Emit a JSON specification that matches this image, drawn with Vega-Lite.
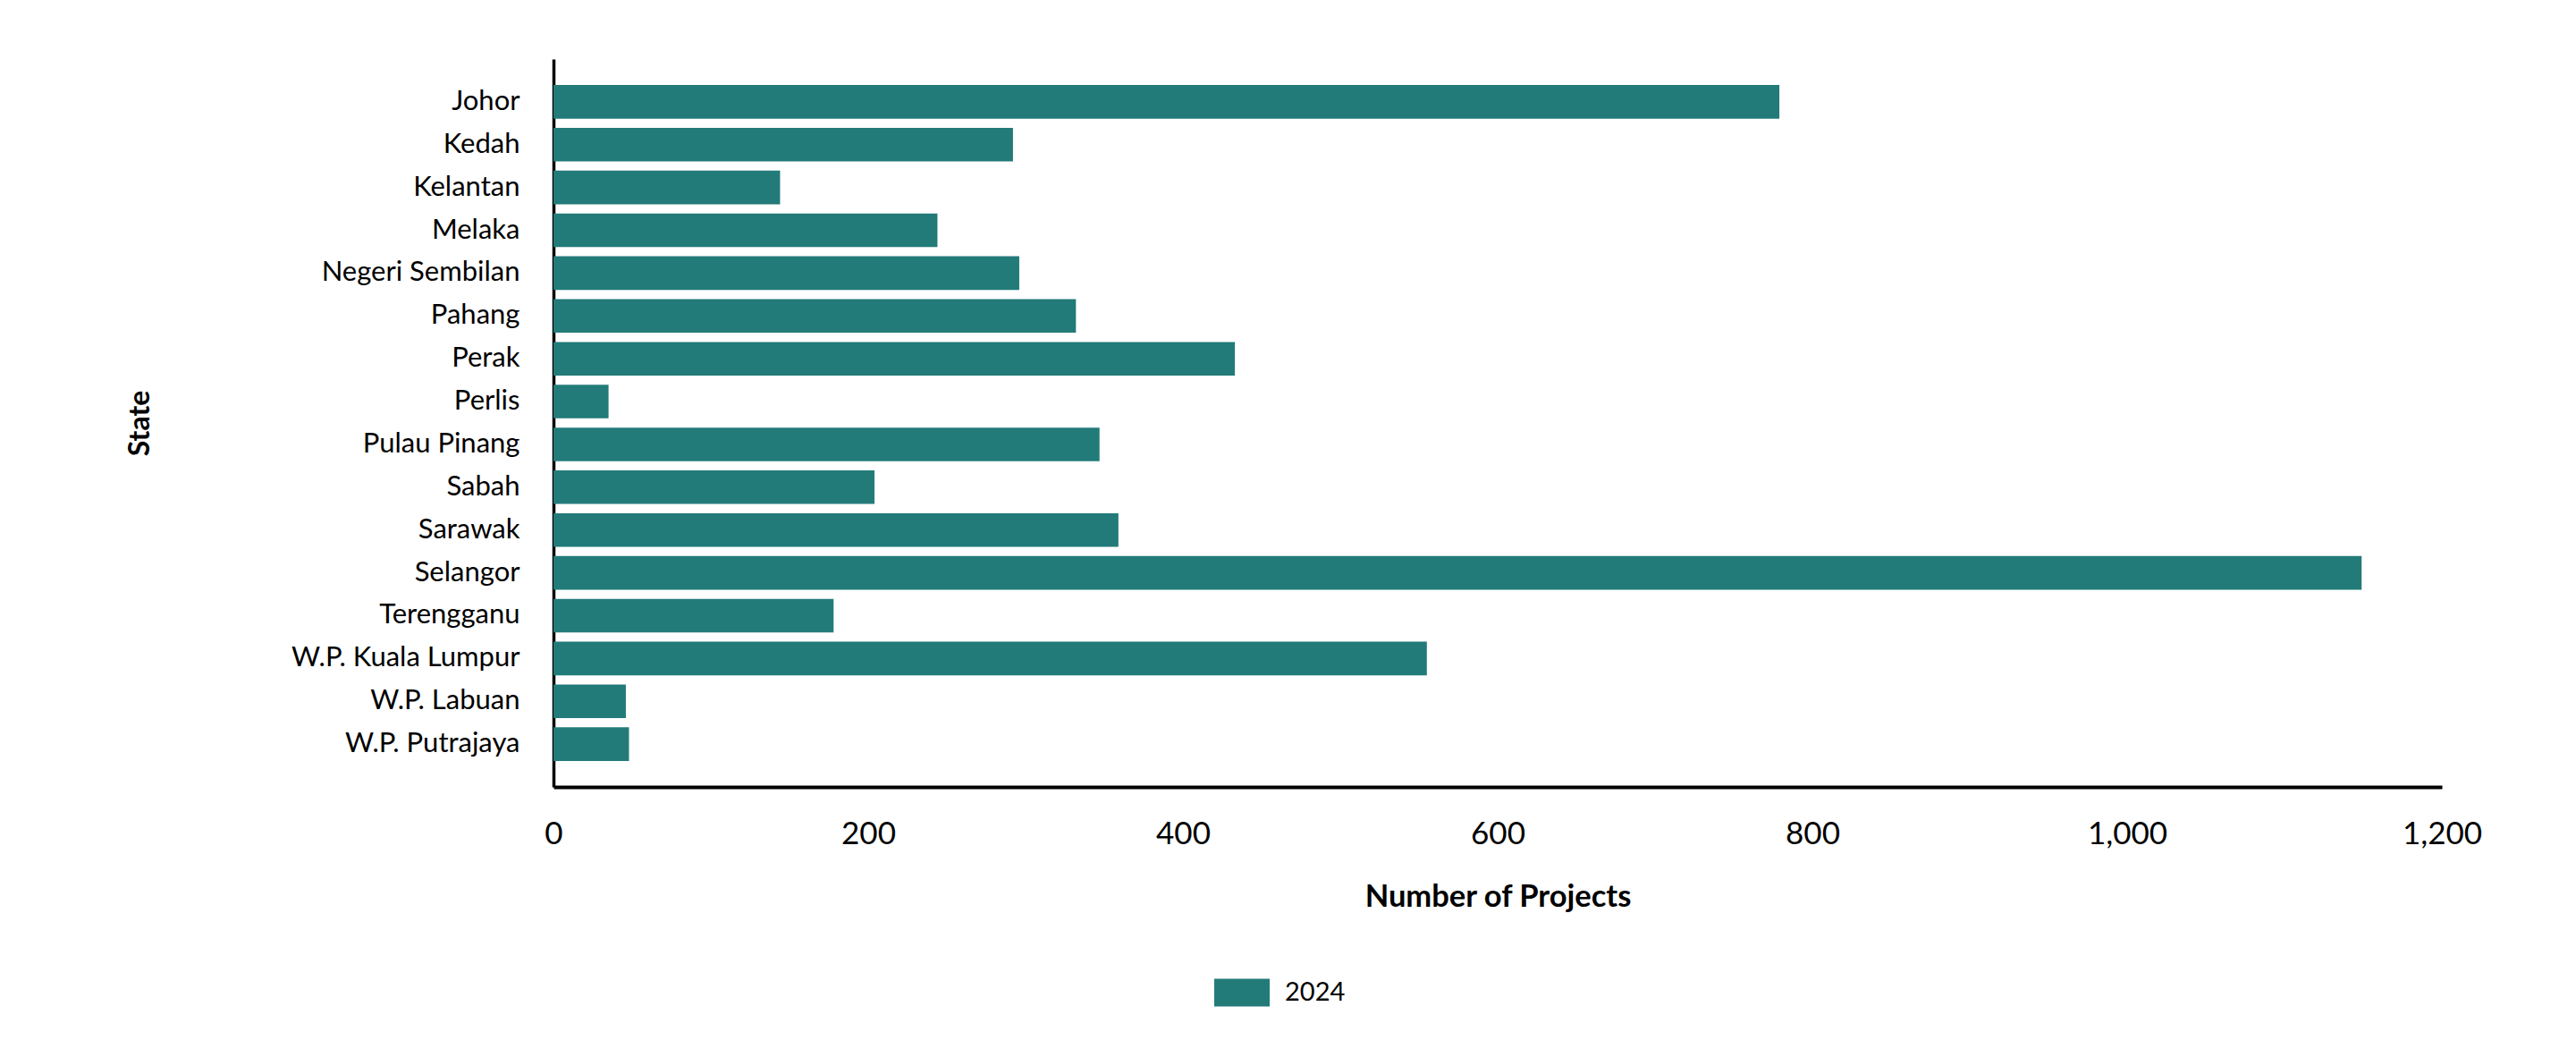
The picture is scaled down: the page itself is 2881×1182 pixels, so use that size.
{
  "$schema": "https://vega.github.io/schema/vega-lite/v6.json",
  "width": 2112,
  "height": 814,
  "autosize": {"type": "none"},
  "padding": {"left": 619, "top": 66, "right": 150, "bottom": 302},
  "background": "white",
  "config": {"view": {"stroke": null}, "font": "Lato"},
  "data": {
    "values": [
      {"state": "Johor", "projects": 779, "year": "2024"},
      {"state": "Kedah", "projects": 292, "year": "2024"},
      {"state": "Kelantan", "projects": 144, "year": "2024"},
      {"state": "Melaka", "projects": 244, "year": "2024"},
      {"state": "Negeri Sembilan", "projects": 296, "year": "2024"},
      {"state": "Pahang", "projects": 332, "year": "2024"},
      {"state": "Perak", "projects": 433, "year": "2024"},
      {"state": "Perlis", "projects": 35, "year": "2024"},
      {"state": "Pulau Pinang", "projects": 347, "year": "2024"},
      {"state": "Sabah", "projects": 204, "year": "2024"},
      {"state": "Sarawak", "projects": 359, "year": "2024"},
      {"state": "Selangor", "projects": 1149, "year": "2024"},
      {"state": "Terengganu", "projects": 178, "year": "2024"},
      {"state": "W.P. Kuala Lumpur", "projects": 555, "year": "2024"},
      {"state": "W.P. Labuan", "projects": 46, "year": "2024"},
      {"state": "W.P. Putrajaya", "projects": 48, "year": "2024"}
    ]
  },
  "mark": {"type": "bar"},
  "encoding": {
    "y": {
      "field": "state",
      "type": "nominal",
      "sort": null,
      "scale": {"paddingInner": 0.215, "paddingOuter": 0.6075},
      "axis": {
        "title": "State",
        "titleFont": "Lato",
        "titleFontWeight": "bold",
        "titleFontSize": 32,
        "titleColor": "black",
        "titleX": -453,
        "titleY": 407,
        "titleBaseline": "alphabetic",
        "titleAngle": -90,
        "labelFont": "Lato",
        "labelFontSize": 31,
        "labelColor": "black",
        "labelPadding": 38,
        "labelLimit": 600,
        "ticks": false,
        "tickSize": 0,
        "domainColor": "black",
        "domainWidth": 3.5
      }
    },
    "x": {
      "field": "projects",
      "type": "quantitative",
      "scale": {"domain": [0, 1200], "nice": false},
      "axis": {
        "title": "Number of Projects",
        "titleFont": "Lato",
        "titleFontWeight": "bold",
        "titleFontSize": 34.5,
        "titleColor": "black",
        "titleY": 133,
        "titleBaseline": "alphabetic",
        "values": [0, 200, 400, 600, 800, 1000, 1200],
        "format": ",.0f",
        "labelFont": "Lato",
        "labelFontSize": 35,
        "labelColor": "black",
        "labelPadding": 35,
        "labelFlush": false,
        "labelOverlap": false,
        "ticks": false,
        "tickSize": 0,
        "grid": false,
        "domainColor": "black",
        "domainWidth": 4
      }
    },
    "color": {
      "field": "year",
      "type": "nominal",
      "scale": {"range": ["#227B79"]},
      "legend": {
        "title": null,
        "orient": "none",
        "legendX": 739,
        "legendY": 1013,
        "padding": 0,
        "symbolType": "M-1,-0.5H1V0.5H-1Z",
        "symbolSize": 3844,
        "symbolStrokeWidth": 0,
        "symbolOpacity": 1,
        "labelFont": "Lato",
        "labelFontSize": 29,
        "labelColor": "black",
        "labelOffset": 17
      }
    }
  }
}
